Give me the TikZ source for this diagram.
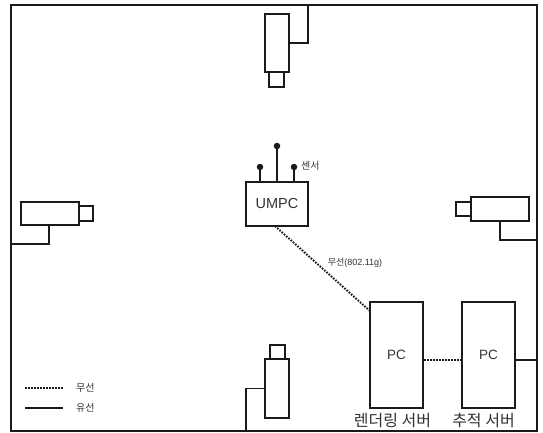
\documentclass[tikz,border=0pt]{standalone}
\usepackage{fontspec}
\setmainfont{Noto Sans CJK KR}
\newfontfamily\latinf{Liberation Sans}
\definecolor{ink}{HTML}{1A1A1A}
\definecolor{txt}{HTML}{333333}
\tikzset{
  boxn/.style={draw=ink,line width=2pt,fill=white,inner sep=0pt,text=txt},
  thin box/.style={boxn,line width=1.8pt},
  wired/.style={draw=ink,line width=1.6pt},
  wireless/.style={draw=ink,line width=2pt,dash pattern=on 1.6pt off 1.4pt},
  dotn/.style={circle,fill=ink,inner sep=0pt,minimum size=6.5pt},
  lab/.style={text=txt,inner sep=0pt},
}
\begin{document}
\begin{tikzpicture}[x=1pt,y=-1pt]
\useasboundingbox (0,0) rectangle (543,433);
\fill[white] (0,0) rectangle (543,433);
\node[draw=ink,line width=2pt,minimum width=526pt,minimum height=426pt,inner sep=0pt] (frame) at (274,218) {};
% top camera
\node[thin box,minimum width=24pt,minimum height=58pt] (tbody) at (277,43) {};
\node[thin box,minimum width=15pt,minimum height=15pt] (tlens) at (276.5,79.5) {};
\coordinate (tw) at (308,43);
\draw[wired] (tbody.east) -- (tw) -- (tw |- frame.north);
% bottom camera
\node[thin box,minimum width=24pt,minimum height=59pt] (bbody) at (277,388.5) {};
\node[thin box,minimum width=15pt,minimum height=14pt] (blens) at (277.5,352) {};
\coordinate (bw) at (246,388.5);
\draw[wired] (bbody.west) -- (bw) -- (bw |- frame.south);
% left camera
\node[thin box,minimum width=58pt,minimum height=23pt] (lbody) at (50,213.5) {};
\node[thin box,minimum width=14pt,minimum height=15pt] (llens) at (86,213.5) {};
\coordinate (lt) at (49,225);
\coordinate (lw) at (49,244);
\draw[wired] (lt) -- (lw) -- (lw -| frame.west);
% right camera
\node[thin box,minimum width=58pt,minimum height=24pt] (rbody) at (500,209) {};
\node[thin box,minimum width=15pt,minimum height=14pt] (rlens) at (463.5,209) {};
\coordinate (rw) at (500,240);
\draw[wired] (rbody.south) -- (rw) -- (rw -| frame.east);
% UMPC
\node[boxn,minimum width=62pt,minimum height=44pt,font=\latinf\fontsize{14.5}{16}\selectfont] (umpc) at (277,204) {UMPC};
\node[dotn] (s1) at (260,167) {};
\node[dotn] (s2) at (277,146) {};
\node[dotn] (s3) at (294,167) {};
\draw[wired,line width=1.8pt] (s1) -- (s1 |- umpc.north);
\draw[wired,line width=1.8pt] (s2) -- (s2 |- umpc.north);
\draw[wired,line width=1.8pt] (s3) -- (s3 |- umpc.north);
\node[lab,anchor=west,font=\fontsize{10}{12}\selectfont] (sensor) at (301,166) {센서};
% PCs
\node[boxn,minimum width=53pt,minimum height=106pt,font=\latinf\fontsize{13.5}{15}\selectfont] (pc1) at (396.5,355) {PC};
\node[boxn,minimum width=53pt,minimum height=106pt,font=\latinf\fontsize{13.5}{15}\selectfont] (pc2) at (488.5,355) {PC};
\coordinate (ustart) at (275,226);
\coordinate (pstart) at (370,311);
\draw[wireless] (ustart) -- (pstart);
\coordinate (p1e) at (424,360);
\coordinate (p2w) at (461,360);
\coordinate (p2e) at (515,360);
\draw[wireless] (p1e) -- (p2w);
\draw[wired,line width=2pt] (p2e) -- (p2e -| frame.east);
\node[lab,font=\fontsize{9}{11}\selectfont] (wl) at (355,263) {무선\latinf(802.11g)};
\node[lab,font=\fontsize{16}{18}\selectfont] (rs) at (392.5,421) {렌더링 서버};
\node[lab,font=\fontsize{16}{18}\selectfont] (ts) at (483.5,421) {추적 서버};
% legend
\coordinate (la) at (25,388);
\coordinate (lb) at (63,388);
\coordinate (lc) at (25,408);
\coordinate (ld) at (63,408);
\draw[wireless,line width=1.5pt] (la) -- (lb);
\draw[wired] (lc) -- (ld);
\node[lab,anchor=west,font=\fontsize{10}{12}\selectfont] (lg1) at (76,388) {무선};
\node[lab,anchor=west,font=\fontsize{10}{12}\selectfont] (lg2) at (76,408) {유선};
\end{tikzpicture}
\end{document}
